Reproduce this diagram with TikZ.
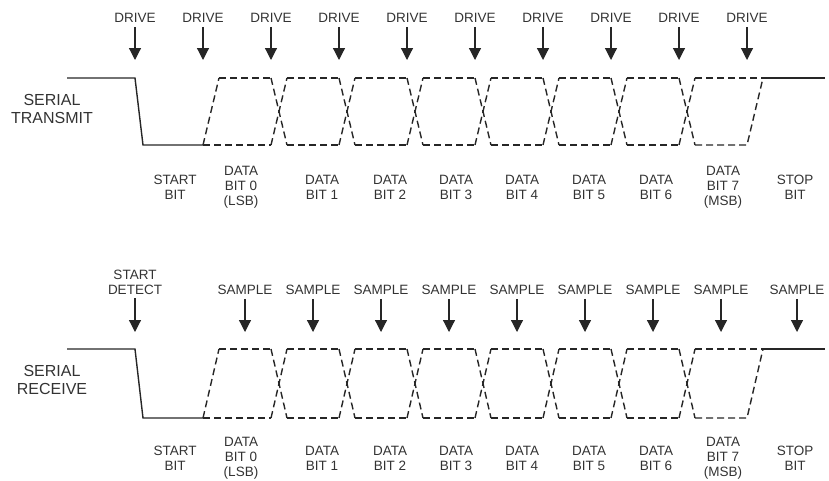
\documentclass[tikz,border=0pt]{standalone}
\usepackage{fontspec}
\setmainfont{Liberation Sans}
\usetikzlibrary{arrows.meta,positioning}

\tikzset{
  lbl/.style={font=\fontsize{13.5}{15}\selectfont, text=black!80, align=center, inner sep=2pt},
  signame/.style={font=\fontsize{16}{18}\selectfont, text=black!80, align=center},
  strobe/.style={line width=1.2, black!85, shorten <=2pt, -{Triangle[width=12pt,length=12pt]}},
  wave/.style={line width=1.4, black!85},
  dashwave/.style={wave, dash pattern=on 7pt off 4pt},
}

\begin{document}
\begin{tikzpicture}[x=1pt,y=-1pt]
    \useasboundingbox (0,0) rectangle (829,480);
    \def\w{68}
    % signal names
    \node[signame] (tx) at (52,109) {SERIAL\\TRANSMIT};
    \node[signame] (rx) at (52,380) {SERIAL\\RECEIVE};

    % waveforms: idle, start bit, eight data bits, stop bit
    \foreach \hi/\lo in {78/145, 349/418} {
      \draw[wave] (67,\hi) -- (135,\hi) -- (143,\lo) -- (203,\lo);
      \draw[dashwave] (203,\lo) -- (219,\hi);
      \draw[dashwave] (219,\hi) -- (271,\hi);
      \draw[dashwave] (203,\lo) -- (271,\lo);
      \foreach \i in {0,...,6} {
        \draw[dashwave] ({271+\w*\i},\hi) -- ({287+\w*\i},\lo);
        \draw[dashwave] ({271+\w*\i},\lo) -- ({287+\w*\i},\hi);
      }
      \foreach \i in {1,...,6} {
        \draw[dashwave] ({219+\w*\i},\hi) -- ({271+\w*\i},\hi);
        \draw[dashwave] ({219+\w*\i},\lo) -- ({271+\w*\i},\lo);
      }
      \draw[dashwave] (695,\hi) -- (763,\hi);
      \draw[dashwave] (695,\lo) -- (747,\lo) -- (763,\hi);
      \draw[wave] (763,\hi) -- (825,\hi);
    }

    % drive strobes
    \foreach \i in {0,...,9} {
      \node[lbl] (drive\i) at ({135+\w*\i},18) {DRIVE};
      \coordinate (drivetip\i) at ({135+\w*\i},60);
      \draw[strobe] (drive\i) -- (drivetip\i);
    }

    % receive strobes
    \node[lbl] (detect) at (135,282) {START\\DETECT};
    \coordinate (detecttip) at (135,332);
    \draw[strobe] (detect) -- (detecttip);
    \foreach \x [count=\n] in {245,313,381,449,517,585,653,721,797} {
      \node[lbl] (sample\n) at (\x,290) {SAMPLE};
      \coordinate (sampletip\n) at (\x,332);
      \draw[strobe] (sample\n) -- (sampletip\n);
    }

    % bit names
    \foreach \y in {187,458} {
      \foreach \x/\txt [count=\n] in {175/{START\\BIT}, 241/{DATA\\BIT 0\\(LSB)},
          322/{DATA\\BIT 1}, 390/{DATA\\BIT 2}, 456/{DATA\\BIT 3}, 522/{DATA\\BIT 4},
          589/{DATA\\BIT 5}, 656/{DATA\\BIT 6}, 723/{DATA\\BIT 7\\(MSB)}, 795/{STOP\\BIT}}
        \node[lbl] (bit\y-\n) at (\x,\y) {\txt};
    }
\end{tikzpicture}
\end{document}
